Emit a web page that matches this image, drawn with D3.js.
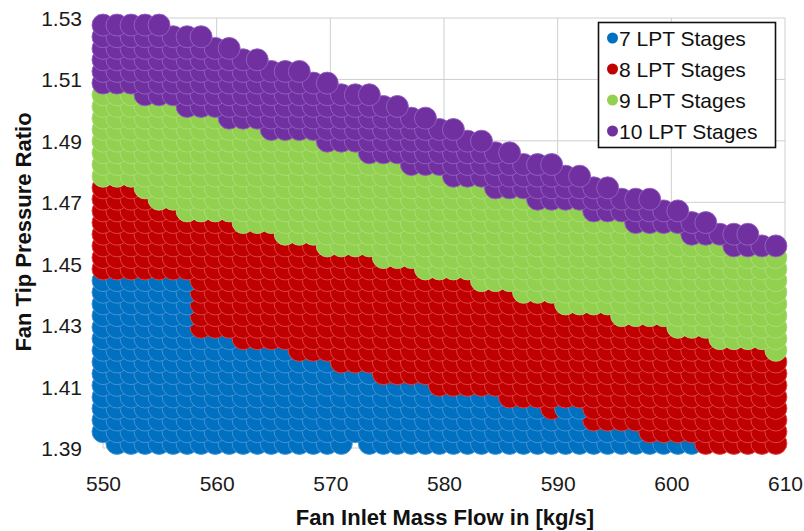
<!DOCTYPE html>
<html><head><meta charset="utf-8">
<script src="https://cdn.jsdelivr.net/npm/d3@7"></script>
<style>
body{margin:0;background:#fff}
svg{display:block}
text{font-family:"Liberation Sans",Arial,Helvetica,sans-serif}
</style>
</head><body>
<svg id="chart" width="804" height="531"></svg>
<script>
// Sampled fan inlet mass flow values [kg/s] (design-space columns)
const massFlow = [550.00,551.23,552.47,553.70,554.93,556.17,557.40,558.63,559.87,561.10,
  562.33,563.57,564.80,566.03,567.27,568.50,569.73,570.97,572.20,573.43,
  574.67,575.90,577.13,578.37,579.60,580.83,582.07,583.30,584.53,585.77,
  587.00,588.23,589.47,590.70,591.93,593.17,594.40,595.63,596.87,598.10,
  599.33,600.57,601.80,603.03,604.27,605.50,606.73,607.97,609.20];
// Sampled fan tip pressure ratio levels (design-space rows, ascending)
const fprLevels = [1.3915,1.3953,1.3991,1.4029,1.4066,1.4104,1.4142,1.4180,1.4218,1.4256,
  1.4293,1.4331,1.4369,1.4407,1.4445,1.4483,1.4520,1.4558,1.4596,1.4634,
  1.4672,1.4710,1.4747,1.4785,1.4823,1.4861,1.4899,1.4937,1.4974,1.5012,
  1.5050,1.5088,1.5126,1.5164,1.5201,1.5239,1.5277];

// Highest feasible FPR for each LPT stage count, per mass-flow column
const maxFpr7 = [1.4445,1.4445,1.4445,1.4445,1.4445,1.4445,1.4445,1.4256,1.4256,1.4256,
  1.4218,1.4218,1.4218,1.4218,1.4180,1.4180,1.4180,1.4142,1.4142,1.4142,
  1.4104,1.4104,1.4104,1.4104,1.4066,1.4066,1.4066,1.4066,1.4066,1.4029,
  1.4029,1.4029,1.3991,1.4029,1.4029,1.3953,1.3953,1.3953,1.3953,1.3915,
  1.3915,1.3915,1.3915,0,0,0,0,0,0];
const maxFpr8 = [1.4747,1.4747,1.4747,1.4710,1.4672,1.4672,1.4634,1.4634,1.4634,1.4634,
  1.4596,1.4596,1.4596,1.4558,1.4558,1.4558,1.4520,1.4520,1.4520,1.4520,
  1.4483,1.4483,1.4483,1.4445,1.4445,1.4445,1.4445,1.4407,1.4407,1.4407,
  1.4369,1.4369,1.4369,1.4331,1.4331,1.4331,1.4331,1.4293,1.4293,1.4293,
  1.4293,1.4256,1.4256,1.4256,1.4218,1.4218,1.4218,1.4218,1.4180];
const maxFpr9 = [1.5050,1.5050,1.5050,1.5012,1.5012,1.5012,1.4974,1.4974,1.4974,1.4937,
  1.4937,1.4937,1.4899,1.4899,1.4899,1.4899,1.4861,1.4861,1.4861,1.4823,
  1.4823,1.4823,1.4785,1.4785,1.4785,1.4747,1.4747,1.4747,1.4710,1.4710,
  1.4710,1.4672,1.4672,1.4672,1.4672,1.4634,1.4634,1.4634,1.4596,1.4596,
  1.4596,1.4596,1.4558,1.4558,1.4558,1.4520,1.4520,1.4520,1.4520];
const maxFpr10 = [1.5277,1.5277,1.5277,1.5277,1.5277,1.5239,1.5239,1.5239,1.5201,1.5201,
  1.5164,1.5164,1.5126,1.5126,1.5126,1.5088,1.5088,1.5050,1.5050,1.5050,
  1.5012,1.5012,1.4974,1.4974,1.4937,1.4937,1.4899,1.4899,1.4861,1.4861,
  1.4823,1.4823,1.4823,1.4785,1.4785,1.4747,1.4747,1.4710,1.4710,1.4710,
  1.4672,1.4672,1.4634,1.4634,1.4596,1.4596,1.4596,1.4558,1.4558];
// design points that were not evaluated [massFlow, FPR]
const missingPoints = [[550.00,1.3915],[572.20,1.3915]];

const xTicks = [550,560,570,580,590,600,610];
const yTicks = [1.39,1.41,1.43,1.45,1.47,1.49,1.51,1.53];
const stageNames = ["7 LPT Stages","8 LPT Stages","9 LPT Stages","10 LPT Stages"];
const fillColors = ["#0070C0","#C00000","#92D050","#7030A0"];
const edgeColors = ["#4d95d6","#e04a4a","#aedc7c","#9463c2"];
const xTitle = "Fan Inlet Mass Flow in [kg/s]";
const yTitle = "Fan Tip Pressure Ratio";

const svg = d3.select("#chart");
const L = 103, R = 785, T = 18, B = 448;
const x = d3.scaleLinear().domain([550,610]).range([L,R]);
const y = d3.scaleLinear().domain([1.39,1.53]).range([B,T]);

// gridlines
const grid = svg.append("g");
grid.selectAll(".vg").data(xTicks).join("line")
  .attr("x1", d=>x(d)).attr("x2", d=>x(d)).attr("y1", T).attr("y2", B)
  .attr("stroke", "#cfcfcf").attr("stroke-width", 1);
grid.selectAll(".hg").data(yTicks).join("line")
  .attr("y1", d=>y(d)).attr("y2", d=>y(d)).attr("x1", L).attr("x2", R)
  .attr("stroke", "#cfcfcf").attr("stroke-width", 1);

// build points
const pts = [];
fprLevels.forEach(f => {
  massFlow.forEach((m, j) => {
    if (missingPoints.some(p => Math.abs(p[0]-m) < 1e-6 && Math.abs(p[1]-f) < 1e-6)) return;
    const e = 1e-6;
    let c = -1;
    if (f <= maxFpr7[j] + e) c = 0;
    else if (f <= maxFpr8[j] + e) c = 1;
    else if (f <= maxFpr9[j] + e) c = 2;
    else if (f <= maxFpr10[j] + e) c = 3;
    if (c >= 0) pts.push({m, f, c});
  });
});

svg.append("g").selectAll("circle").data(pts).join("circle")
  .attr("cx", d=>x(d.m)).attr("cy", d=>y(d.f)).attr("r", 11)
  .attr("fill", d=>fillColors[d.c])
  .attr("stroke", d=>edgeColors[d.c]).attr("stroke-width", 0.9);

// axes
const xAxis = svg.append("g").attr("transform", `translate(0,${B})`)
  .call(d3.axisBottom(x).tickValues(xTicks).tickSize(0).tickFormat(d3.format("d")));
xAxis.select(".domain").remove();
xAxis.selectAll("text").attr("y", 43).attr("dy", 0)
  .attr("font-size", 21).attr("fill", "#1a1a1a").attr("font-family", "Liberation Sans, Arial, sans-serif");

const yAxis = svg.append("g").attr("transform", `translate(${L},0)`)
  .call(d3.axisLeft(y).tickValues(yTicks).tickSize(0).tickFormat(d3.format(".2f")));
yAxis.select(".domain").remove();
yAxis.selectAll("text").attr("x", -21).attr("dy", "0.36em")
  .attr("font-size", 21).attr("fill", "#1a1a1a").attr("font-family", "Liberation Sans, Arial, sans-serif");

// titles
svg.append("text").attr("x", 445).attr("y", 525).attr("text-anchor", "middle")
  .attr("font-size", 22).attr("font-weight", "bold").attr("fill", "#111").text(xTitle);
svg.append("text").attr("transform", "translate(31,232) rotate(-90)").attr("text-anchor", "middle")
  .attr("font-size", 22).attr("font-weight", "bold").attr("fill", "#111").text(yTitle);

// legend
const lg = svg.append("g");
lg.append("rect").attr("x", 598.5).attr("y", 22.5).attr("width", 177).attr("height", 125)
  .attr("fill", "#fff").attr("stroke", "#111").attr("stroke-width", 1.6);
const items = lg.selectAll(".it").data(stageNames).join("g")
  .attr("transform", (d,i)=>`translate(0,${38 + i*31})`);
items.append("circle").attr("cx", 612.5).attr("cy", 0).attr("r", 5.5)
  .attr("fill", (d,i)=>fillColors[i]);
items.append("text").attr("x", 619).attr("y", 0).attr("dy", "0.36em")
  .attr("font-size", 21).attr("fill", "#111").text(d=>d);
</script>
</body></html>
